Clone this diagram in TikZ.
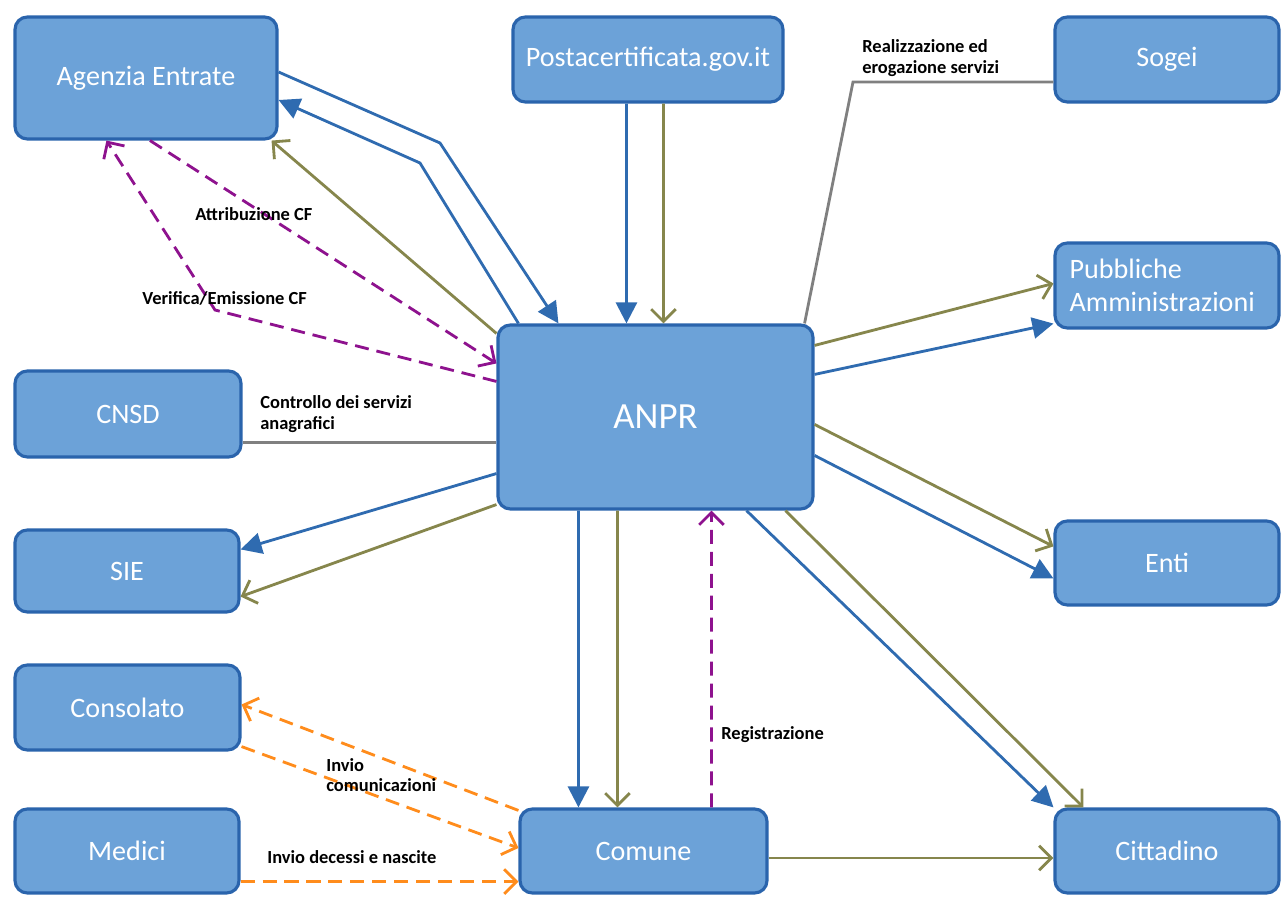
\documentclass[tikz,border=0pt]{standalone}
\usepackage{fontspec}
\setmainfont{Carlito}
\usepackage{xcolor}
\usetikzlibrary{calc,arrows.meta}
\definecolor{boxfill}{HTML}{6CA2D8}
\definecolor{boxline}{HTML}{2A64AC}
\definecolor{linkblue}{HTML}{2F6BB0}
\definecolor{linkolive}{HTML}{86864C}
\definecolor{linkpurple}{HTML}{8E128E}
\definecolor{linkorange}{HTML}{FF8C1C}
\tikzset{
  box/.style={draw=boxline,fill=boxfill,rounded corners=7pt,line width=1.8pt,text=white,inner sep=0pt,font=\fontsize{16}{19}\selectfont},
  lbl/.style={anchor=west,inner sep=0pt,align=left,font=\fontsize{10.5}{11.5}\selectfont\bfseries},
  bluelink/.style={draw=linkblue,line width=1.6pt,-{Triangle[length=12pt,width=12pt]}},
  olivelink/.style={draw=linkolive,line width=1.6pt,-{Straight Barb[length=7pt,width=14pt,line width=1.6pt]}},
  cflink/.style={draw=linkpurple,line width=1.6pt,dash pattern=on 8pt off 4.5pt,-{Straight Barb[length=7pt,width=14pt,line width=1.6pt]}},
  inviolink/.style={draw=linkorange,line width=1.6pt,dash pattern=on 8pt off 4.5pt,-{Straight Barb[length=7pt,width=14pt,line width=1.6pt]}},
  greylink/.style={draw=gray,line width=1.6pt}
}
\begin{document}
\begin{tikzpicture}[x=0.02cm,y=-0.02cm]
\useasboundingbox (0,0) rectangle (1288,908);
% boxes
\node[box,minimum width=5.24cm,minimum height=2.44cm] (agenzia) at (146,78) {Agenzia Entrate};
\node[box,minimum width=5.4cm,minimum height=1.7cm] (posta) at (648,59.5) {Postacertificata.gov.it};
\node[box,minimum width=4.48cm,minimum height=1.7cm] (sogei) at (1167,59.5) {Sogei};
\node[box,minimum width=4.48cm,minimum height=1.7cm,text width=3.9cm,align=left] (pa) at (1167,285.5) {Pubbliche\\Amministrazioni};
\node[box,minimum width=6.3cm,minimum height=3.68cm,font=\fontsize{21}{24}\selectfont] (anpr) at (655.5,417) {ANPR};
\node[box,minimum width=4.52cm,minimum height=1.72cm] (cnsd) at (128,414) {CNSD};
\node[box,minimum width=4.48cm,minimum height=1.64cm] (sie) at (127,571) {SIE};
\node[box,minimum width=4.48cm,minimum height=1.68cm] (enti) at (1167,563) {Enti};
\node[box,minimum width=4.5cm,minimum height=1.7cm] (consolato) at (127.5,707.5) {Consolato};
\node[box,minimum width=4.48cm,minimum height=1.68cm] (medici) at (127,851) {Medici};
\node[box,minimum width=4.94cm,minimum height=1.68cm] (comune) at (643.5,851) {Comune};
\node[box,minimum width=4.48cm,minimum height=1.68cm] (cittadino) at (1167,851) {Cittadino};
% bends
\coordinate (bendA) at (440,143);
\coordinate (bendB) at (420,163);
\coordinate (bendC) at (215,310);
\coordinate (bendD) at (853,82);
% Agenzia Entrate
\draw[bluelink] ($(agenzia.east)+(0,-6)$) -- (bendA) -- ($(anpr.north west)+(62,0)$);
\draw[bluelink] ($(anpr.north west)+(22,0)$) -- (bendB) -- ($(agenzia.east)+(0,22)$);
\draw[olivelink] ($(anpr.north west)+(0,10)$) -- ($(agenzia.south east)+(-7,0)$);
\draw[cflink] ($(agenzia.south)+(4,0)$) -- ($(anpr.north west)+(0,40)$);
\draw[cflink] ($(anpr.north west)+(0,58)$) -- (bendC) -- ($(agenzia.south west)+(93,0)$);
\node[lbl] (attr) at (195,214) {Attribuzione CF};
\node[lbl] (verif) at (142,298) {Verifica/Emissione CF};
% Postacertificata, Sogei
\draw[bluelink] ($(posta.south west)+(115,0)$) -- ($(anpr.north west)+(130,0)$);
\draw[olivelink] ($(posta.south west)+(152,0)$) -- ($(anpr.north west)+(167,0)$);
\draw[greylink] ($(sogei.west)+(0,22.5)$) -- (bendD) -- ($(anpr.north east)+(-10,0)$);
\node[lbl] (real) at (862,58) {Realizzazione ed\\erogazione servizi};
% right side
\draw[olivelink] ($(anpr.north east)+(0,22)$) -- ($(pa.west)+(0,-2)$);
\draw[bluelink] ($(anpr.north east)+(0,51)$) -- ($(pa.south west)+(0,-6)$);
\draw[olivelink] ($(anpr.north east)+(0,101)$) -- ($(enti.north west)+(0,27)$);
\draw[bluelink] ($(anpr.north east)+(0,132)$) -- ($(enti.north west)+(0,59)$);
\draw[bluelink] ($(anpr.south west)+(250,0)$) -- (cittadino.north west);
\draw[olivelink] ($(anpr.south west)+(289,0)$) -- ($(cittadino.north west)+(30,0)$);
% left side
\coordinate (ctrl) at ($(cnsd.south east)+(0,-16)$);
\draw[greylink] (ctrl) -- (ctrl -| anpr.west);
\node[lbl] (ctrllbl) at (260,414) {Controllo dei servizi\\anagrafici};
\draw[bluelink] ($(anpr.south west)+(0,-37)$) -- ($(sie.north east)+(0,21)$);
\draw[olivelink] ($(anpr.south west)+(0,-6)$) -- ($(sie.south east)+(0,-17)$);
% Comune
\draw[bluelink] ($(anpr.south west)+(82,0)$) -- ($(comune.north west)+(60,0)$);
\draw[olivelink] ($(anpr.south west)+(121,0)$) -- ($(comune.north west)+(99,0)$);
\draw[cflink] ($(comune.north west)+(193,0)$) -- ($(anpr.south west)+(215,0)$);
\node[lbl] (reg) at (721,735) {Registrazione};
\draw[inviolink] ($(comune.north west)+(0,3)$) -- ($(consolato.east)+(0,-3)$);
\draw[inviolink] ($(consolato.south east)+(0,-5)$) -- ($(comune.west)+(0,-3)$);
\node[lbl] (inv) at (326,775) {Invio\\comunicazioni};
\draw[inviolink] ($(medici.south east)+(0,-13)$) -- ($(comune.south west)+(0,-13)$);
\node[lbl] (nasc) at (267,857) {Invio decessi e nascite};
\draw[olivelink] ($(comune.east)+(0,7)$) -- ($(cittadino.west)+(0,7)$);
\end{tikzpicture}
\end{document}
